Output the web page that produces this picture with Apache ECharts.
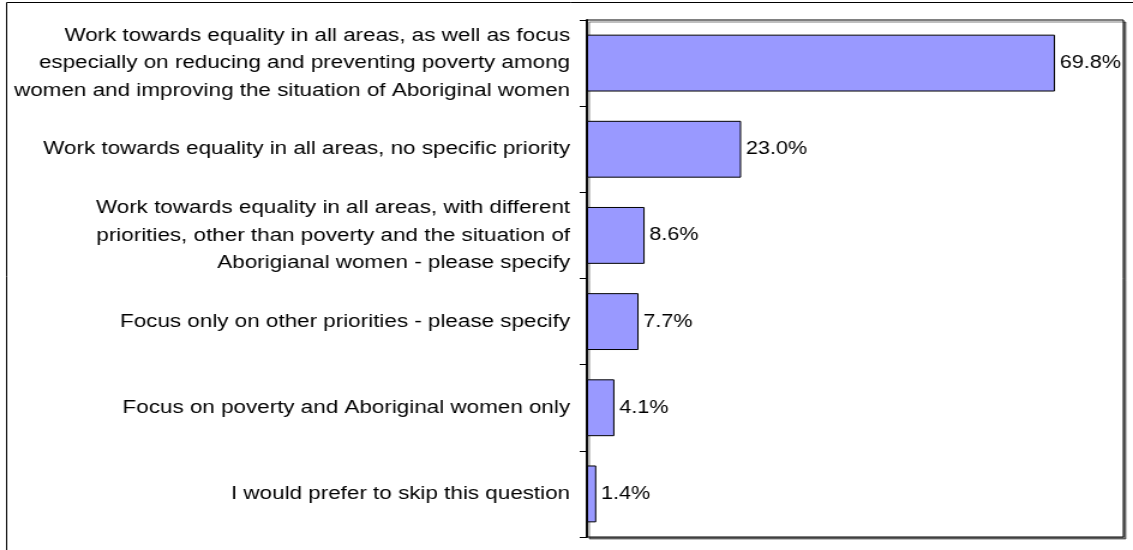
<!DOCTYPE html>
<html>
<head>
<meta charset="utf-8">
<script src="https://cdn.jsdelivr.net/npm/echarts@6/dist/echarts.min.js"></script>
<style>
    html, body {margin: 0; padding: 0; background: #fff; overflow: hidden;}
    /* the source picture is stretched sideways, so draw narrower and widen it */
    #chart {width: 944px; height: 550px; transform: scaleX(1.2002); transform-origin: 0 0;}
</style>
</head>
<body>
<div id="chart"></div>
<script>
// answers, top to bottom
const categories = [
    'Work towards equality in all areas, as well as focus\nespecially on reducing and preventing poverty among\nwomen and improving the situation of Aboriginal women',
    'Work towards equality in all areas, no specific priority',
    'Work towards equality in all areas, with different\npriorities, other than poverty and the situation of\nAborigianal women - please specify',
    'Focus only on other priorities - please specify',
    'Focus on poverty and Aboriginal women only',
    'I would prefer to skip this question'
];
const percentValues = [69.8, 23.0, 8.6, 7.7, 4.1, 1.4];
const axisMax = 80;

const myChart = echarts.init(document.getElementById('chart'));
const fontFam = '"Liberation Sans", Arial, sans-serif';

myChart.setOption({
    animation: false,
    graphic: [
        {
            type: 'rect',
            shape: {x: 5.5, y: 2.5, width: 1200, height: 600},
            style: {fill: 'none', stroke: '#000', lineWidth: 1},
            silent: true
        }
    ],
    grid: {
        left: 489,
        right: 8,
        top: 20,
        bottom: 13,
        show: true,
        backgroundColor: '#fff',
        borderColor: '#000',
        borderWidth: 1,
        shadowColor: 'rgba(0,0,0,0.5)',
        shadowOffsetX: 2,
        shadowOffsetY: 2,
        shadowBlur: 0
    },
    xAxis: {
        type: 'value',
        min: 0,
        max: axisMax,
        show: false
    },
    yAxis: {
        type: 'category',
        inverse: true,
        data: categories,
        axisLine: {show: true, lineStyle: {color: '#000', width: 1.8}},
        axisTick: {show: true, length: 6, lineStyle: {color: '#000'}},
        axisLabel: {
            color: '#000',
            fontFamily: fontFam,
            fontSize: 18.7,
            lineHeight: 27.5,
            margin: 14,
            align: 'right',
            padding: [0, 0, 6, 0]
        }
    },
    series: [
        {
            type: 'bar',
            data: percentValues,
            barCategoryGap: '34%',
            itemStyle: {
                color: '#9999FF',
                borderColor: '#000',
                borderWidth: 1
            },
            label: {
                show: true,
                position: 'right',
                distance: 4,
                color: '#000',
                fontFamily: fontFam,
                fontSize: 18,
                formatter: function (p) {
                    return p.value.toFixed(1) + '%';
                }
            }
        }
    ]
});
</script>
</body>
</html>
